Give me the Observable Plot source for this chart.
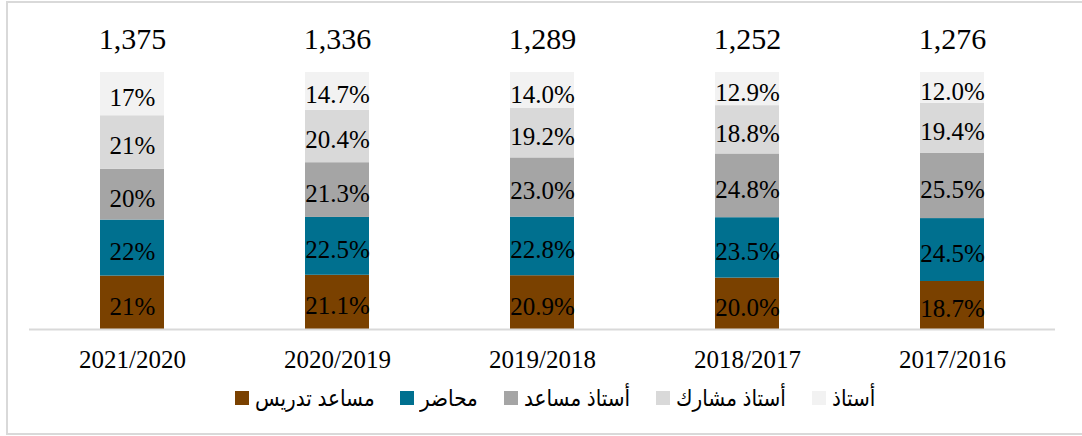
<!DOCTYPE html>
<html>
<head>
<meta charset="utf-8">
<script src="https://cdn.jsdelivr.net/npm/d3@7"></script>
<script src="https://cdn.jsdelivr.net/npm/@observablehq/plot@0.6"></script>
<style>
  body { margin: 0; background: #fff; }
  #wrap { position: relative; width: 1082px; height: 436px; overflow: hidden; background: #fff; }
  #frame { position: absolute; left: 6px; top: 1px; width: 1090px; height: 434px; border: 2px solid #d9d9d9; box-sizing: border-box; }
  #chart { position: absolute; left: 0; top: 0; }
  #legend { position: absolute; left: 0; top: 384px; height: 28px; width: 1082px; display: flex; justify-content: center; padding-left: 28px; box-sizing: border-box;
            font-family: "Liberation Sans", "DejaVu Sans", Arial, sans-serif; font-size: 23px; color: #000; gap: 26px; align-items: center; }
  .item { display: flex; align-items: center; gap: 6px; white-space: nowrap; }
  .sw { width: 14px; height: 14px; display: inline-block; flex: none; }
  .txt { display: inline-block; overflow: visible; }
  .txt span { display: inline-block; transform-origin: left center; }
</style>
</head>
<body>
<div id="wrap">
  <div id="frame"></div>
  <div id="chart"></div>
  <div id="legend"></div>
</div>
<script>
// Categories (academic years), left to right
const years = ["2021/2020", "2020/2019", "2019/2018", "2018/2017", "2017/2016"];
// Totals shown above each bar
const totals = [1375, 1336, 1289, 1252, 1276];
// Decimals used in the labels of each year
const decimals = [0, 1, 1, 1, 1];
// Series, bottom to top
const series = ["مساعد تدريس", "محاضر", "أستاذ مساعد", "أستاذ مشارك", "أستاذ"];
const colors = ["#7a4100", "#00708f", "#a5a5a5", "#d9d9d9", "#f2f2f2"];
// Percent values per series (one per year)
const teachingAssistant = [21, 21.1, 20.9, 20.0, 18.7];
const lecturer = [22, 22.5, 22.8, 23.5, 24.5];
const assistantProf = [20, 21.3, 23.0, 24.8, 25.5];
const associateProf = [21, 20.4, 19.2, 18.8, 19.4];
const professor = [17, 14.7, 14.0, 12.9, 12.0];

const seriesValues = [teachingAssistant, lecturer, assistantProf, associateProf, professor];
const rows = [];
series.forEach((s, si) => {
  years.forEach((y, yi) => {
    const v = seriesValues[si][yi];
    rows.push({year: y, series: s, value: v, label: v.toFixed(decimals[yi]) + "%"});
  });
});
const totalRows = years.map((y, i) => ({year: y, total: d3.format(",")(totals[i])}));

const serif = "'Liberation Serif', 'Times New Roman', serif";

const chart = Plot.plot({
  width: 1082,
  height: 380,
  marginTop: 72,
  marginBottom: 51,
  marginLeft: 29,
  marginRight: 27,
  style: {fontFamily: serif, background: "transparent", color: "#000"},
  x: {domain: years, paddingInner: 0.688, paddingOuter: 0.344, label: null},
  y: {domain: [0, 1], axis: null},
  color: {domain: series, range: colors},
  marks: [
    Plot.barY(rows, Plot.stackY({offset: "normalize", order: null}, {x: "year", y: "value", z: "series", fill: "series"})),
    Plot.ruleY([0], {stroke: "#d9d9d9", strokeWidth: 2}),
    Plot.text(rows, Plot.stackY({offset: "normalize", order: null}, {x: "year", y: "value", z: "series", text: "label", fontSize: 25, fill: "#000", dy: 4})),
    Plot.text(totalRows, {x: "year", text: "total", frameAnchor: "top", lineAnchor: "middle", dy: -33, fontSize: 30, fill: "#000"}),
    Plot.axisX({tickSize: 0, tickPadding: 21, fontSize: 25, label: null, fill: "#000"})
  ]
});
document.getElementById("chart").appendChild(chart);

// Legend (swatch at the left of each label, first series at the left)
const legend = document.getElementById("legend");
const spans = [];
series.forEach((s, i) => {
  const item = document.createElement("div");
  item.className = "item";
  const sw = document.createElement("span");
  sw.className = "sw";
  sw.style.background = colors[i];
  const box = document.createElement("span");
  box.className = "txt";
  const t = document.createElement("span");
  t.textContent = s;
  t.dir = "rtl";
  box.appendChild(t);
  item.appendChild(sw);
  item.appendChild(box);
  legend.appendChild(item);
  spans.push([box, t]);
});
// fit the labels' combined width to the reference legend's text width
const widths = spans.map(([, t]) => t.getBoundingClientRect().width);
const stretch = 437 / d3.sum(widths);
spans.forEach(([box, t], i) => {
  box.style.width = (widths[i] * stretch) + "px";
  t.style.transform = `scaleX(${stretch})`;
});
</script>
</body>
</html>
